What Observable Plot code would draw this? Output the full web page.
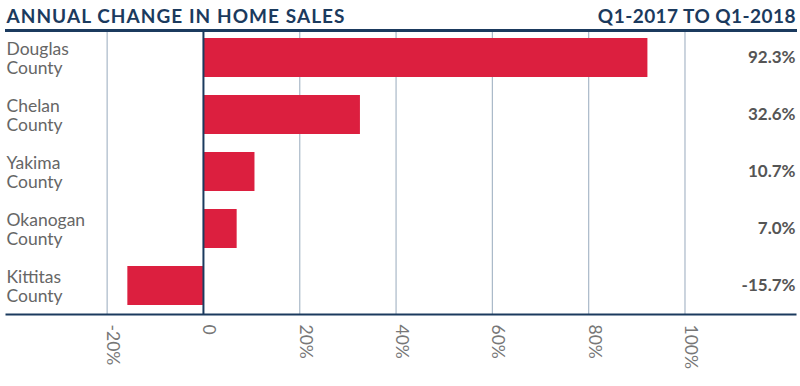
<!DOCTYPE html>
<html>
<head>
<meta charset="utf-8">
<script src="https://cdn.jsdelivr.net/npm/d3@7"></script>
<script src="https://cdn.jsdelivr.net/npm/@observablehq/plot@0.6"></script>
<style>
  html, body { margin: 0; padding: 0; background: #fff; }
  #chart svg { display: block; }
</style>
</head>
<body>
<div id="chart"></div>
<script>
const counties = ["Douglas\nCounty", "Chelan\nCounty", "Yakima\nCounty", "Okanogan\nCounty", "Kittitas\nCounty"];
const changes = [92.3, 32.6, 10.7, 7.0, -15.7];
const valueLabels = ["92.3%", "32.6%", "10.7%", "7.0%", "-15.7%"];
const tickValues = [-20, 0, 20, 40, 60, 80, 100];
const tickLabels = ["-20%", "0", "20%", "40%", "60%", "80%", "100%"];
const titleLeft = "ANNUAL CHANGE IN HOME SALES";
const titleRight = "Q1-2017 TO Q1-2018";

const data = counties.map((c, i) => ({county: c, value: changes[i], label: valueLabels[i]}));
const navy = "#1b3a5e";

const plot = Plot.plot({
  width: 800,
  height: 386,
  marginTop: 30,
  marginBottom: 72,
  marginLeft: 6,
  marginRight: 5,
  style: {fontFamily: "Lato, 'Open Sans', sans-serif", background: "#fff"},
  x: {domain: [-40.9, 122.95], axis: null},
  y: {domain: counties, axis: null, paddingInner: 0.31, paddingOuter: 0.12},
  marks: [
    Plot.ruleX(tickValues.filter(d => d !== 0), {stroke: "#a9b8c8", strokeWidth: 1.2}),
    Plot.barX(data, {x: "value", y: "county", fill: "#dc1f3f"}),
    Plot.ruleX([0], {stroke: navy, strokeWidth: 2}),
    Plot.frame({anchor: "bottom", stroke: navy, strokeWidth: 2}),
    Plot.frame({anchor: "top", stroke: navy, strokeWidth: 3}),
    Plot.text(data, {y: "county", text: "county", frameAnchor: "left", textAnchor: "start", fontSize: 17.5, fill: "#666", lineHeight: 1.1}),
    Plot.text(data, {y: "county", text: "label", frameAnchor: "right", textAnchor: "end", fontSize: 17, fontWeight: "bold", fill: "#555"}),
    Plot.text(tickValues, {x: d => d, text: (d, i) => tickLabels[i], frameAnchor: "bottom", rotate: 90, textAnchor: "start", dy: 10, fontSize: 17.5, fill: "#777"}),
    Plot.text([titleLeft], {text: d => d, frameAnchor: "top-left", textAnchor: "start", lineAnchor: "bottom", dy: -8, fontSize: 19, fontWeight: "bold", fill: navy}),
    Plot.text([titleRight], {text: d => d, frameAnchor: "top-right", textAnchor: "end", lineAnchor: "bottom", dy: -8, dx: 0.5, fontSize: 19, fontWeight: "bold", fill: navy})
  ]
});
d3.select(plot).selectAll("text").each(function() {
  const t = this.textContent;
  if (t === titleLeft) this.style.letterSpacing = "1.05px";
  if (t === titleRight) this.style.letterSpacing = "0.45px";
});
document.getElementById("chart").appendChild(plot);
</script>
</body>
</html>
